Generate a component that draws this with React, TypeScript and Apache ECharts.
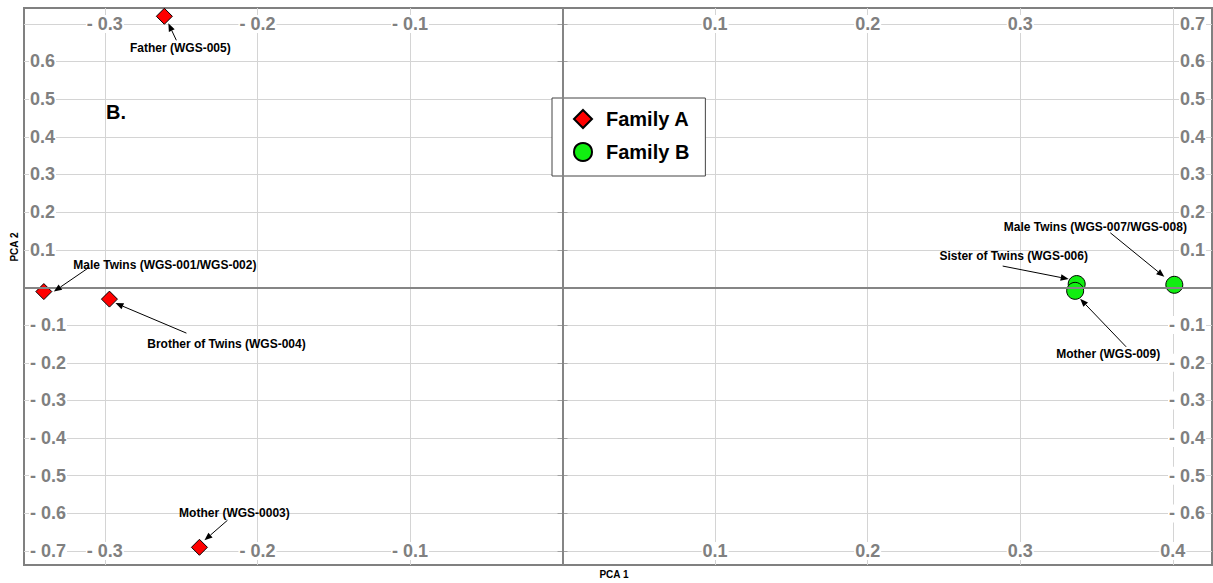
import React, { useEffect, useRef } from "react";
import * as echarts from "echarts";

// PCA coordinates of each sequenced sample: [PCA 1, PCA 2]
const familyANames = [
  "Father (WGS-005)",
  "Male Twins (WGS-001/WGS-002)",
  "Brother of Twins (WGS-004)",
  "Mother (WGS-0003)",
];
const familyAValues: number[][] = [
  [-0.261, 0.72],
  [-0.34, -0.011],
  [-0.297, -0.031],
  [-0.238, -0.69],
];

const familyBNames = [
  "Sister of Twins (WGS-006)",
  "Male Twins (WGS-007/WGS-008)",
  "Mother (WGS-009)",
];
const familyBValues: number[][] = [
  [0.337, 0.009],
  [0.401, 0.007],
  [0.336, -0.009],
];

// Axis ticks
const xTicks = [-0.3, -0.2, -0.1, 0, 0.1, 0.2, 0.3, 0.4];
const yTicks = [-0.7, -0.6, -0.5, -0.4, -0.3, -0.2, -0.1, 0, 0.1, 0.2, 0.3, 0.4, 0.5, 0.6, 0.7];
const topLabels = [-0.3, -0.2, -0.1, 0.1, 0.2, 0.3];
const bottomLabels = [-0.3, -0.2, -0.1, 0.1, 0.2, 0.3, 0.4];
const leftLabels = [-0.7, -0.6, -0.5, -0.4, -0.3, -0.2, -0.1, 0.1, 0.2, 0.3, 0.4, 0.5, 0.6];
const rightLabels = [-0.6, -0.5, -0.4, -0.3, -0.2, -0.1, 0.1, 0.2, 0.3, 0.4, 0.5, 0.6, 0.7];

const X_MIN = -0.353;
const X_MAX = 0.4257;
const Y_MIN = -0.737;
const Y_MAX = 0.742;

// Callout placement in pixels relative to each point:
// label centre, arrow tail and arrow tip
const calloutLayout: Record<string, { label: number[]; from: number[]; to: number[] }> = {
  "Father (WGS-005)": { label: [16, 32], from: [12, 24], to: [4, 7] },
  "Male Twins (WGS-001/WGS-002)": { label: [121, -27], from: [45, -24], to: [10, 0] },
  "Brother of Twins (WGS-004)": { label: [117, 45], from: [77, 34], to: [6, 4] },
  "Mother (WGS-0003)": { label: [35, -34], from: [28, -27], to: [5, -7] },
  "Sister of Twins (WGS-006)": { label: [-63, -28], from: [-74, -18], to: [-8, -5] },
  "Male Twins (WGS-007/WGS-008)": { label: [-79, -58], from: [-64, -52], to: [-10, -8] },
  "Mother (WGS-009)": { label: [33, 63], from: [51, 56], to: [5, 8] },
};

const FONT = "'Liberation Sans', Arial, Helvetica, sans-serif";

const fmt = (v: number) => {
  const r = Math.round(v * 10) / 10;
  if (r === 0) return "";
  return r < 0 ? "- " + Math.abs(r).toFixed(1) : r.toFixed(1);
};

const axisLabelBase = {
  inside: true,
  color: "#808080",
  fontSize: 18,
  fontWeight: "bold" as const,
  fontFamily: FONT,
  backgroundColor: "#ffffff",
  padding: [0, 1],
  formatter: (v: number) => fmt(v),
};

export default function App() {
  const ref = useRef<HTMLDivElement>(null);

  useEffect(() => {
    if (!ref.current) return;
    const chart = echarts.init(ref.current, undefined, { renderer: "svg" });

    const calloutData = [
      ...familyANames.map((n, i) => ({ name: n, value: familyAValues[i] })),
      ...familyBNames.map((n, i) => ({ name: n, value: familyBValues[i] })),
    ];

    const option: any = {
      animation: false,
      backgroundColor: "#ffffff",
      grid: {
        left: 24,
        right: 1,
        top: 8,
        bottom: 18,
        show: true,
        borderColor: "#808080",
        borderWidth: 2,
        backgroundColor: "#ffffff",
      },
      legend: {
        data: ["Family A", "Family B"],
        orient: "vertical",
        left: 552,
        top: 98,
        itemWidth: 18,
        itemHeight: 18,
        itemGap: 13,
        padding: [11, 16, 14, 21],
        backgroundColor: "#ffffff",
        borderColor: "#444444",
        borderWidth: 1,
        selectedMode: false,
        textStyle: {
          color: "#000000",
          fontSize: 20,
          fontWeight: "bold",
          fontFamily: FONT,
          padding: [0, 0, 0, 9],
        },
      },
      xAxis: [
        {
          type: "value",
          position: "bottom",
          min: X_MIN,
          max: X_MAX,
          axisLine: { show: false },
          axisTick: { show: false, customValues: xTicks },
          splitLine: { show: true, lineStyle: { color: "#d4d4d4", width: 1 } },
          axisLabel: { ...axisLabelBase, margin: 5, customValues: bottomLabels },
        },
        {
          type: "value",
          position: "top",
          min: X_MIN,
          max: X_MAX,
          axisLine: { show: false },
          axisTick: { show: false, customValues: xTicks },
          splitLine: { show: false },
          axisLabel: { ...axisLabelBase, margin: 7, customValues: topLabels },
        },
      ],
      yAxis: [
        {
          type: "value",
          position: "left",
          min: Y_MIN,
          max: Y_MAX,
          axisLine: { show: false },
          axisTick: {
            show: true,
            inside: true,
            length: 5,
            customValues: yTicks,
            lineStyle: { color: "#a0a0a0" },
          },
          splitLine: { show: true, lineStyle: { color: "#d4d4d4", width: 1 } },
          axisLabel: { ...axisLabelBase, margin: 5, customValues: leftLabels },
        },
        {
          type: "value",
          position: "right",
          min: Y_MIN,
          max: Y_MAX,
          axisLine: { show: false },
          axisTick: {
            show: true,
            inside: true,
            length: 5,
            customValues: yTicks,
            lineStyle: { color: "#a0a0a0" },
          },
          splitLine: { show: false },
          axisLabel: { ...axisLabelBase, margin: 6, customValues: rightLabels },
        },
      ],
      series: [
        {
          // zero reference lines
          name: "origin",
          type: "scatter",
          data: [],
          z: 1,
          silent: true,
          markLine: {
            silent: true,
            symbol: ["none", "none"],
            label: { show: false },
            lineStyle: { color: "#858585", width: 2, type: "solid" },
            data: [{ xAxis: 0 }, { yAxis: 0 }],
          },
        },
        {
          name: "Family A",
          type: "scatter",
          symbol: "diamond",
          symbolSize: 16,
          z: 3,
          itemStyle: { color: "#ff0000", borderColor: "#000000", borderWidth: 1, opacity: 1 },
          data: familyAValues.map((v, i) => ({ name: familyANames[i], value: v })),
        },
        {
          name: "Family B",
          type: "scatter",
          symbol: "circle",
          symbolSize: 17,
          z: 3,
          itemStyle: { color: "#11ee11", borderColor: "#000000", borderWidth: 1, opacity: 1 },
          data: familyBValues.map((v, i) => ({ name: familyBNames[i], value: v })),
        },
        {
          name: "callouts",
          type: "custom",
          z: 5,
          silent: true,
          data: calloutData.map((d) => ({ name: d.name, value: d.value })),
          renderItem: (params: any, api: any) => {
            const name = calloutData[params.dataIndex].name;
            const lay = calloutLayout[name];
            const p = api.coord([api.value(0), api.value(1)]);
            const fx = p[0] + lay.from[0];
            const fy = p[1] + lay.from[1];
            const tx = p[0] + lay.to[0];
            const ty = p[1] + lay.to[1];
            const ang = Math.atan2(ty - fy, tx - fx);
            const hl = 8;
            const hw = 3.2;
            const bx = tx - hl * Math.cos(ang);
            const by = ty - hl * Math.sin(ang);
            const nx = -Math.sin(ang);
            const ny = Math.cos(ang);
            return {
              type: "group",
              children: [
                {
                  type: "line",
                  shape: { x1: fx, y1: fy, x2: bx, y2: by },
                  style: { stroke: "#000000", lineWidth: 1 },
                },
                {
                  type: "polygon",
                  shape: {
                    points: [
                      [tx, ty],
                      [bx + nx * hw, by + ny * hw],
                      [bx - nx * hw, by - ny * hw],
                    ],
                  },
                  style: { fill: "#000000" },
                },
                {
                  type: "text",
                  x: p[0] + lay.label[0],
                  y: p[1] + lay.label[1],
                  style: {
                    text: name,
                    fill: "#000000",
                    font: `bold 12px ${FONT}`,
                    align: "center",
                    verticalAlign: "middle",
                  },
                },
              ],
            };
          },
        },
      ],
      graphic: [
        {
          type: "text",
          left: 106,
          top: 102,
          z: 10,
          style: { text: "B.", fill: "#000000", font: `bold 20px ${FONT}` },
        },
        {
          type: "text",
          x: 614,
          y: 574,
          z: 10,
          style: {
            text: "PCA 1",
            fill: "#000000",
            font: `bold 10px ${FONT}`,
            align: "center",
            verticalAlign: "middle",
          },
        },
        {
          type: "text",
          x: 14,
          y: 247,
          rotation: Math.PI / 2,
          z: 10,
          style: {
            text: "PCA 2",
            fill: "#000000",
            font: `bold 10px ${FONT}`,
            align: "center",
            verticalAlign: "middle",
          },
        },
      ],
    };

    chart.setOption(option);
    return () => chart.dispose();
  }, []);

  return (
    <div
      ref={ref}
      style={{ position: "fixed", left: 0, top: 0, width: 1213, height: 583, background: "#fff" }}
    />
  );
}
